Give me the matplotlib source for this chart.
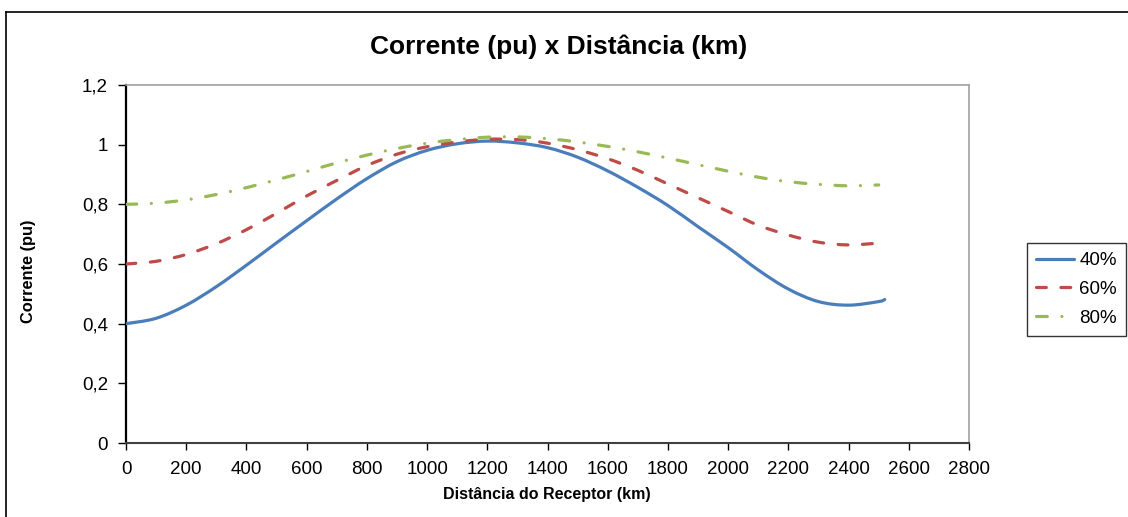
import matplotlib
matplotlib.use("Agg")
import matplotlib.pyplot as plt
import numpy as np
from matplotlib.lines import Line2D
from matplotlib.path import Path
from matplotlib.patches import PathPatch
from matplotlib.ticker import FuncFormatter

plt.rcParams['font.family'] = ['Liberation Sans', 'DejaVu Sans']

dist_40 = [0, 100, 200, 300, 400, 500, 600, 700, 800, 900, 1000, 1100, 1200, 1300,
           1400, 1500, 1600, 1700, 1800, 1900, 2000, 2100, 2200, 2300, 2400, 2500, 2520]
curr_40 = [0.40, 0.418, 0.462, 0.524, 0.596, 0.671, 0.745, 0.818, 0.886, 0.943, 0.981,
           1.003, 1.012, 1.006, 0.99, 0.958, 0.912, 0.857, 0.796, 0.725, 0.655, 0.58,
           0.516, 0.474, 0.462, 0.474, 0.481]

dist_60 = [0, 100, 200, 300, 400, 500, 600, 700, 800, 900, 1000, 1100, 1200, 1300,
           1400, 1500, 1600, 1700, 1800, 1900, 2000, 2100, 2200, 2300, 2400, 2500]
curr_60 = [0.60, 0.609, 0.632, 0.668, 0.715, 0.77, 0.828, 0.88, 0.93, 0.968, 0.993,
           1.009, 1.018, 1.017, 1.005, 0.983, 0.953, 0.914, 0.868, 0.822, 0.776, 0.730,
           0.697, 0.673, 0.664, 0.670]

dist_80 = [0, 100, 200, 300, 400, 500, 600, 700, 800, 900, 1000, 1100, 1200, 1300,
           1400, 1500, 1600, 1700, 1800, 1900, 2000, 2100, 2200, 2300, 2400, 2500]
curr_80 = [0.80, 0.804, 0.815, 0.833, 0.856, 0.882, 0.91, 0.939, 0.965, 0.987, 1.005,
           1.017, 1.025, 1.026, 1.02, 1.009, 0.994, 0.976, 0.955, 0.933, 0.911, 0.891,
           0.876, 0.867, 0.862, 0.865]

labels = ['40%', '60%', '80%']
x_ticks = list(range(0, 2801, 200))
y_ticks = [0, 0.2, 0.4, 0.6, 0.8, 1.0, 1.2]

colors = ['#4A7EBB', '#BE4B48', '#98B954']
lw = 2.3
styles = ['-', (0, (3.07, 4.57)), (0, (3.38, 4.57, 0.01, 4.57))]


def smooth_path(xs, ys):
    """Smoothed line through the points (Excel 'smoothed line'), using Bezier curves."""
    p = np.column_stack([xs, ys]).astype(float)
    n = len(p)
    verts = [p[0]]
    codes = [Path.MOVETO]
    for i in range(n - 1):
        p0 = p[i - 1] if i > 0 else p[i]
        p1, p2 = p[i], p[i + 1]
        p3 = p[i + 2] if i + 2 < n else p[i + 1]
        c1 = p1 + (p2 - p0) / 6.0
        c2 = p2 - (p3 - p1) / 6.0
        verts += [c1, c2, p2]
        codes += [Path.CURVE4] * 3
    return Path(verts, codes)


W, H = 1128, 517
fig = plt.figure(figsize=(W / 100, H / 100), dpi=100)
ax = fig.add_axes([126 / W, 1 - 443 / H, (969 - 126) / W, (443 - 85) / H])

handles = []
for xs, ys, c, st, lab in zip([dist_40, dist_60, dist_80], [curr_40, curr_60, curr_80],
                              colors, styles, labels):
    patch = PathPatch(smooth_path(xs, ys), fill=False, edgecolor=c, lw=lw,
                      linestyle=st, capstyle='round', joinstyle='round', zorder=3)
    ax.add_patch(patch)
    handles.append(Line2D([], [], color=c, lw=lw, linestyle=st,
                          dash_capstyle='round', solid_capstyle='round'))

ax.set_xlim(0, 2800)
ax.set_ylim(0, 1.2)
ax.set_xticks(x_ticks)
ax.set_yticks(y_ticks)
ax.xaxis.set_major_formatter(FuncFormatter(lambda v, p: f"{int(round(v))}"))


def yfmt(v, p):
    if abs(v - round(v)) < 1e-9:
        return f"{int(round(v))}"
    return f"{v:.1f}".replace('.', ',')


ax.yaxis.set_major_formatter(FuncFormatter(yfmt))
ax.tick_params(axis='both', direction='out', width=1, labelsize=13.5, colors='black')
ax.tick_params(axis='x', length=5, pad=8)
ax.tick_params(axis='y', length=6, pad=7)

for s in ['top', 'right']:
    ax.spines[s].set_color('#A0A0A0')
    ax.spines[s].set_linewidth(1.2)
ax.spines['left'].set_color('black')
ax.spines['left'].set_linewidth(1.6)
ax.spines['bottom'].set_color('#404040')
ax.spines['bottom'].set_linewidth(1.5)

fig.text(559 / W, 1 - 47 / H, 'Corrente (pu) x Distância (km)', ha='center', va='center',
         fontsize=19, fontweight='bold')
fig.text(547 / W, 1 - 495 / H, 'Distância do Receptor (km)', ha='center', va='center',
         fontsize=11.5, fontweight='bold')
fig.text(28 / W, 1 - 271 / H, 'Corrente (pu)', ha='center', va='center', rotation=90,
         fontsize=11.8, fontweight='bold')

leg = fig.legend(handles, labels, loc='upper left', bbox_to_anchor=(1027 / W, 1 - 243 / H),
                 frameon=True, fancybox=False, edgecolor='black', fontsize=13.5,
                 handlelength=2.05, handletextpad=0.25, labelspacing=0.62, borderpad=0.48,
                 borderaxespad=0)
leg.get_frame().set_linewidth(1.0)

# outer chart frame
fig.add_artist(Line2D([6 / W, 6 / W], [1 - 12 / H, 0], color='black', lw=1.2))
fig.add_artist(Line2D([6 / W, 1], [1 - 12 / H, 1 - 12 / H], color='black', lw=1.2))

fig.savefig('out.png', dpi=100)
